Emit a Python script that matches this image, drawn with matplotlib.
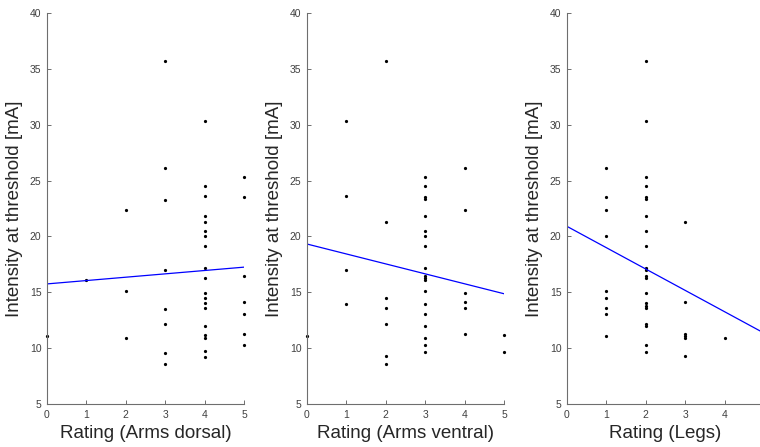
import matplotlib.pyplot as plt
import numpy as np

plt.rcParams["font.family"] = ["Liberation Sans", "DejaVu Sans"]

# ratings and thresholds per body region
dorsal_x = [0, 1, 2, 2, 2,
            3, 3, 3, 3, 3, 3, 3, 3,
            4, 4, 4, 4, 4, 4, 4, 4, 4, 4, 4, 4, 4, 4, 4, 4, 4, 4, 4,
            5, 5, 5, 5, 5, 5, 5]
dorsal_y = [11.1, 16.1, 22.4, 15.1, 10.9,
            35.7, 26.1, 23.3, 17.0, 13.5, 12.2, 9.6, 8.6,
            30.3, 24.5, 23.6, 21.8, 21.3, 20.5, 20.05, 19.1, 17.15, 16.3, 14.9,
            14.5, 14.0, 13.6, 12.0, 11.2, 10.9, 9.7, 9.25,
            25.3, 23.5, 16.5, 14.1, 13.05, 11.3, 10.3]

ventral_x = [0, 1, 1, 1, 1,
             2, 2, 2, 2, 2, 2, 2,
             3, 3, 3, 3, 3, 3, 3, 3, 3, 3, 3, 3, 3, 3, 3, 3, 3, 3, 3,
             4, 4, 4, 4, 4, 4,
             5, 5]
ventral_y = [11.1, 30.3, 23.6, 17.0, 13.95,
             35.7, 21.3, 14.5, 13.6, 12.2, 9.3, 8.6,
             25.3, 24.5, 23.5, 23.35, 21.8, 20.5, 20.05, 19.1, 17.15, 16.5, 16.3,
             16.1, 15.1, 13.95, 13.05, 12.0, 10.9, 10.3, 9.65,
             26.1, 22.4, 14.9, 14.1, 13.6, 11.3,
             11.2, 9.65]

legs_x = [1, 1, 1, 1, 1, 1, 1, 1, 1,
          2, 2, 2, 2, 2, 2, 2, 2, 2, 2, 2, 2, 2, 2, 2, 2, 2, 2, 2, 2, 2,
          3, 3, 3, 3, 3, 3,
          4]
legs_y = [26.1, 23.5, 22.4, 20.05, 15.1, 14.5, 13.6, 13.05, 11.1,
          35.7, 30.3, 25.3, 24.5, 23.5, 23.35, 21.8, 20.5, 19.1, 17.15, 17.0,
          16.5, 16.3, 14.9, 14.0, 13.8, 13.6, 12.2, 12.0, 10.3, 9.65,
          21.3, 14.1, 11.3, 11.1, 10.9, 9.3,
          10.9]

# linear fits (intercept, slope)
dorsal_fit = (15.75, 0.30)
ventral_fit = (19.32, -0.89)
legs_fit = (20.9, -1.91)

xlabels = ["Rating (Arms dorsal)", "Rating (Arms ventral)", "Rating (Legs)"]
ylabel = "Intensity at threshold [mA]"

W, H = 760, 447
fig = plt.figure(figsize=(W / 100, H / 100), dpi=100)

panels = [(dorsal_x, dorsal_y, dorsal_fit),
          (ventral_x, ventral_y, ventral_fit),
          (legs_x, legs_y, legs_fit)]
lefts = [47, 307, 567]

for i, (left, (xs, ys, fit), xl) in enumerate(zip(lefts, panels, xlabels)):
    ax = fig.add_axes([left / W, 43 / H, 197 / W, 391 / H])
    ax.plot(xs, ys, ".", color="black", ms=2.6, clip_on=False)
    fx = np.array([0, 5])
    ax.plot(fx, fit[0] + fit[1] * fx, color="blue", lw=0.9)
    ax.set_xlim(0, 5)
    ax.set_ylim(5, 40)
    # last panel runs off the right edge, its "5" is not shown
    ax.set_xticks(range(0, 6) if i < 2 else range(0, 5))
    ax.set_yticks(range(5, 41, 5))
    for s in ("top", "right"):
        ax.spines[s].set_visible(False)
    for s in ("left", "bottom"):
        ax.spines[s].set_color("#6e6e6e")
        ax.spines[s].set_linewidth(0.8)
    ax.tick_params(direction="in", length=3, width=0.7, colors="#6e6e6e",
                   labelcolor="#404040", labelsize=7.5, pad=4)
    ax.set_xlabel(xl, fontsize=13.5, color="#262626", labelpad=4)
    ax.set_ylabel(ylabel, fontsize=13.5, color="#262626", labelpad=5)

fig.savefig("out.png", dpi=100)
